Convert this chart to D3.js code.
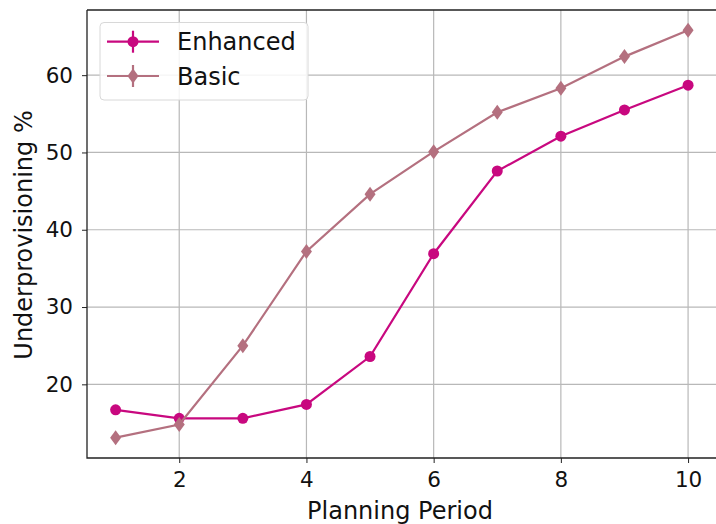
<!DOCTYPE html>
<html><head><meta charset="utf-8">
<script src="https://cdn.jsdelivr.net/npm/d3@7"></script>
<style>body{margin:0;background:#fff;} text{font-family:"DejaVu Sans",sans-serif;}</style>
</head><body>
<svg id="c" width="716" height="524"></svg>
<script>
const periods = [1,2,3,4,5,6,7,8,9,10];
const enhanced = [16.7,15.6,15.6,17.4,23.6,36.9,47.6,52.1,55.5,58.7];
const basic = [13.1,14.8,25.0,37.2,44.6,50.1,55.2,58.3,62.4,65.8];
const xTicks = [2,4,6,8,10];
const yTicks = [20,30,40,50,60];
const seriesNames = ["Enhanced","Basic"];
const colors = ["#c8087f","#b4707f"];

const svg = d3.select("#c");
const L=87, R=716.7, T=10, B=458;
const x = d3.scaleLinear().domain([0.55,10.45]).range([L,R]);
const y = d3.scaleLinear().domain([10.47,68.43]).range([B,T]);

// grid
svg.append("g").selectAll("line").data(xTicks).join("line")
  .attr("x1",d=>x(d)).attr("x2",d=>x(d)).attr("y1",T).attr("y2",B)
  .attr("stroke","#b8b8b8").attr("stroke-width",1.2);
svg.append("g").selectAll("line").data(yTicks).join("line")
  .attr("x1",L).attr("x2",R).attr("y1",d=>y(d)).attr("y2",d=>y(d))
  .attr("stroke","#b8b8b8").attr("stroke-width",1.2);

// axes
const xa = svg.append("g").attr("transform",`translate(0,${B})`)
  .call(d3.axisBottom(x).tickValues(xTicks).tickSize(5).tickPadding(9).tickFormat(d3.format("d")));
const ya = svg.append("g").attr("transform",`translate(${L},0)`)
  .call(d3.axisLeft(y).tickValues(yTicks).tickSize(5).tickPadding(9).tickFormat(d3.format("d")));
[xa,ya].forEach(a=>{a.select(".domain").remove();
  a.selectAll("text").attr("font-size",21.5).attr("fill","#111").attr("font-family","DejaVu Sans");
  a.selectAll("line").attr("stroke","#222");});

// spines
svg.append("path").attr("d",`M${L},${T}H${R+2}M${L},${T}V${B}H${R+2}`)
  .attr("fill","none").attr("stroke","#222").attr("stroke-width",1.3);

// labels
svg.append("text").attr("x",400).attr("y",519).attr("text-anchor","middle")
  .attr("font-size",24).attr("fill","#111").text("Planning Period");
svg.append("text").attr("transform",`translate(32,235) rotate(-90)`).attr("text-anchor","middle")
  .attr("font-size",24).attr("fill","#111").text("Underprovisioning %");

const line = d3.line().x((d,i)=>x(periods[i])).y(d=>y(d));
const data = [enhanced,basic];
const diamond = "M0,-7.5L5.5,0L0,7.5L-5.5,0Z";

data.forEach((vals,k)=>{
  svg.append("path").datum(vals).attr("d",line).attr("fill","none")
    .attr("stroke",colors[k]).attr("stroke-width",2.2);
  const g = svg.append("g");
  if(k===0){
    g.selectAll("circle").data(vals).join("circle")
      .attr("cx",(d,i)=>x(periods[i])).attr("cy",d=>y(d)).attr("r",5.5).attr("fill",colors[k]);
  } else {
    g.selectAll("path").data(vals).join("path")
      .attr("transform",(d,i)=>`translate(${x(periods[i])},${y(d)})`).attr("d",diamond).attr("fill",colors[k]);
  }
});

// legend
const lg = svg.append("g");
lg.append("rect").attr("x",100).attr("y",22.5).attr("width",208).attr("height",77.5).attr("rx",4)
  .attr("fill","#fff").attr("fill-opacity",0.85).attr("stroke","#d8d8d8");
seriesNames.forEach((n,k)=>{
  const cy = 41.7+k*34.3;
  lg.append("line").attr("x1",107).attr("x2",159).attr("y1",cy).attr("y2",cy).attr("stroke",colors[k]).attr("stroke-width",2.2);
  lg.append("line").attr("x1",133).attr("x2",133).attr("y1",cy-11).attr("y2",cy+11).attr("stroke",colors[k]).attr("stroke-width",2.2);
  if(k===0) lg.append("circle").attr("cx",133).attr("cy",cy).attr("r",5.5).attr("fill",colors[k]);
  else lg.append("path").attr("transform",`translate(133,${cy})`).attr("d",diamond).attr("fill",colors[k]);
  lg.append("text").attr("x",177).attr("y",cy+8.5).attr("font-size",24).attr("fill","#111").text(n);
});
</script>
</body></html>
